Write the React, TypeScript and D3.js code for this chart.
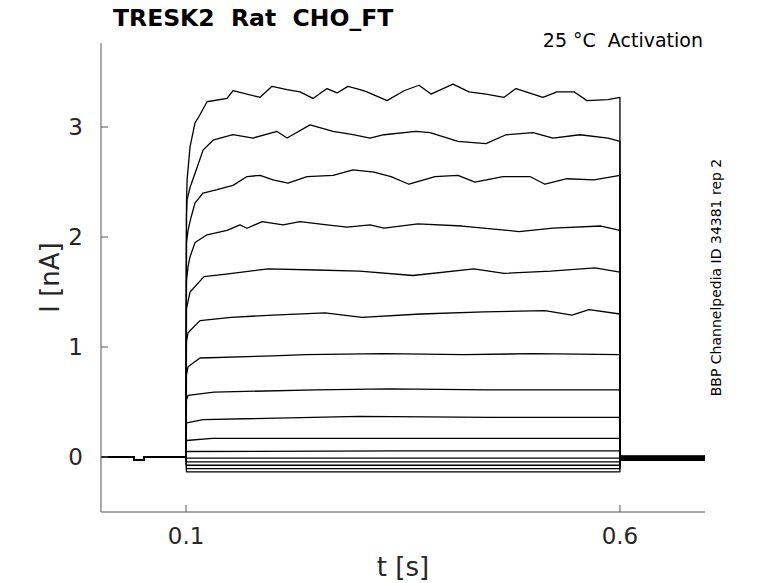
import * as d3 from "d3";

const width = 778;
const height = 583;
const margin = { top: 43, right: 73, bottom: 71, left: 101 };

const timeTicks = [0.1, 0.6];
const currentTicks = [0, 1, 2, 3];

// holding period before the step, same for every sweep (small test pulse)
const holdPoints: [number, number][] = [
  [0.002, 0], [0.04, 0], [0.0401, -0.03], [0.0515, -0.03], [0.0516, 0], [0.1, 0],
];

const sweep1: [number, number][] = [
  [0.1005, 2.3], [0.1012, 2.52], [0.1046, 2.82], [0.1104, 3.04], [0.1138, 3.08], [0.1242, 3.23],
  [0.1472, 3.26], [0.1541, 3.33], [0.1853, 3.27], [0.1991, 3.37], [0.2164, 3.34], [0.2313, 3.32],
  [0.2463, 3.26], [0.2624, 3.35], [0.274, 3.31], [0.2866, 3.37], [0.3005, 3.34], [0.3085, 3.32],
  [0.3316, 3.24], [0.3512, 3.33], [0.3684, 3.38], [0.3823, 3.3], [0.4076, 3.39], [0.426, 3.32],
  [0.4456, 3.3], [0.4664, 3.27], [0.4802, 3.35], [0.5113, 3.27], [0.5274, 3.32], [0.547, 3.32],
  [0.562, 3.24], [0.5862, 3.25], [0.6, 3.27],
];
const sweep2: [number, number][] = [
  [0.1005, 2.2], [0.1012, 2.34], [0.1046, 2.45], [0.1104, 2.58], [0.1196, 2.79], [0.1311, 2.88],
  [0.1392, 2.9], [0.1541, 2.93], [0.1772, 2.9], [0.2048, 2.96], [0.2164, 2.9], [0.2429, 3.02],
  [0.2694, 2.96], [0.2924, 2.93], [0.312, 2.9], [0.3281, 2.93], [0.365, 2.96], [0.3811, 2.95],
  [0.4134, 2.87], [0.4456, 2.85], [0.4687, 2.93], [0.4998, 2.95], [0.5228, 2.9], [0.5539, 2.93],
  [0.5862, 2.9], [0.6, 2.87],
];
const sweep3: [number, number][] = [
  [0.1005, 1.95], [0.1023, 2.06], [0.1058, 2.18], [0.1104, 2.31], [0.1196, 2.4], [0.1357, 2.43],
  [0.1541, 2.47], [0.1703, 2.55], [0.1853, 2.56], [0.2002, 2.52], [0.2175, 2.49], [0.2394, 2.55],
  [0.2694, 2.56], [0.2924, 2.61], [0.3166, 2.59], [0.3362, 2.55], [0.3569, 2.48], [0.3869, 2.55],
  [0.4134, 2.56], [0.4329, 2.5], [0.4652, 2.55], [0.4963, 2.55], [0.5136, 2.48], [0.5389, 2.53],
  [0.57, 2.52], [0.6, 2.56],
];
const sweep4: [number, number][] = [
  [0.1005, 1.6], [0.1023, 1.73], [0.1046, 1.82], [0.1104, 1.95], [0.1242, 2.02], [0.1472, 2.06],
  [0.1622, 2.11], [0.1703, 2.08], [0.1876, 2.14], [0.2118, 2.11], [0.2313, 2.14], [0.2624, 2.11],
  [0.2855, 2.09], [0.312, 2.11], [0.3281, 2.08], [0.3673, 2.12], [0.418, 2.1], [0.4837, 2.05],
  [0.5228, 2.08], [0.5781, 2.1], [0.6, 2.06],
];
const sweep5: [number, number][] = [
  [0.1005, 1.35], [0.1046, 1.5], [0.1207, 1.64], [0.1438, 1.66], [0.1945, 1.71], [0.25, 1.7],
  [0.3, 1.69], [0.3615, 1.65], [0.4318, 1.71], [0.4664, 1.67], [0.52, 1.69], [0.5712, 1.72], [0.6, 1.68],
];
const sweep6: [number, number][] = [
  [0.1005, 1.05], [0.1023, 1.13], [0.1161, 1.24], [0.1518, 1.27], [0.2, 1.29], [0.2601, 1.31],
  [0.3028, 1.27], [0.37, 1.3], [0.4433, 1.32], [0.5136, 1.33], [0.5447, 1.29], [0.5643, 1.34], [0.6, 1.3],
];
const sweep7: [number, number][] = [
  [0.1005, 0.75], [0.1023, 0.82], [0.1161, 0.9], [0.2, 0.92], [0.2371, 0.93], [0.327, 0.94],
  [0.42, 0.93], [0.5, 0.94], [0.6, 0.93],
];
const sweep8: [number, number][] = [
  [0.1005, 0.52], [0.1023, 0.56], [0.1322, 0.59], [0.25, 0.61], [0.3339, 0.62], [0.45, 0.61], [0.6, 0.61],
];
const sweep9: [number, number][] = [[0.1005, 0.31], [0.12, 0.34], [0.3, 0.37], [0.45, 0.36], [0.6, 0.36]];
const sweep10: [number, number][] = [[0.1005, 0.15], [0.13, 0.17], [0.35, 0.17], [0.6, 0.17]];
const sweep11: [number, number][] = [[0.1005, 0.05], [0.35, 0.055], [0.6, 0.055]];
const sweep12: [number, number][] = [[0.1005, -0.01], [0.6, -0.01]];
const sweep13: [number, number][] = [[0.1005, -0.045], [0.6, -0.045]];
const sweep14: [number, number][] = [[0.1005, -0.075], [0.6, -0.075]];
const sweep15: [number, number][] = [[0.1005, -0.105], [0.6, -0.105]];
const sweep16: [number, number][] = [[0.1005, -0.135], [0.6, -0.135]];

const sweeps = [
  sweep1, sweep2, sweep3, sweep4, sweep5, sweep6, sweep7, sweep8,
  sweep9, sweep10, sweep11, sweep12, sweep13, sweep14, sweep15, sweep16,
];

// current after the step back to holding, until the end of the record
const tailLevels = [
  -0.03, -0.028, -0.025, -0.022, -0.02, -0.017, -0.015, -0.012,
  -0.01, -0.007, -0.005, -0.002, 0, 0.003, 0.006, 0.01,
];
const stepEnd = 0.6;
const recordEnd = 0.698;

const font = "DejaVu Sans, sans-serif";

const App = () => {
  const x = d3.scaleLinear().domain([0.002, 0.698]).range([margin.left, width - margin.right]);
  const y = d3.scaleLinear().domain([-0.5, 3.764]).range([height - margin.bottom, margin.top]);

  const line = d3.line<[number, number]>()
    .x((d) => x(d[0]))
    .y((d) => y(d[1]));

  const paths = sweeps.map((s, i) => {
    const pts: [number, number][] = [
      ...holdPoints,
      ...s,
      [stepEnd, tailLevels[i]],
      [recordEnd, tailLevels[i]],
    ];
    return line(pts);
  });

  const x0 = margin.left;
  const x1 = width - margin.right;
  const y0 = height - margin.bottom;
  const y1 = margin.top;

  return (
    <svg
      width={width}
      height={height}
      style={{ position: "absolute", left: 0, top: 0, background: "#fff" }}
    >
      {paths.map((d, i) => (
        <path key={i} d={d ?? ""} fill="none" stroke="#000" strokeWidth={1.3} strokeLinejoin="round" />
      ))}

      {/* axes */}
      <line x1={x0} x2={x1} y1={y0} y2={y0} stroke="#555" />
      <line x1={x0} x2={x0} y1={y0} y2={y1} stroke="#555" />
      {timeTicks.map((t) => (
        <g key={t}>
          <line x1={x(t)} x2={x(t)} y1={y0} y2={y0 - 7} stroke="#555" />
          <text x={x(t)} y={y0 + 32} textAnchor="middle" fontFamily={font} fontSize={23} fill="#262626">
            {t}
          </text>
        </g>
      ))}
      {currentTicks.map((v) => (
        <g key={v}>
          <line x1={x0} x2={x0 + 7} y1={y(v)} y2={y(v)} stroke="#555" />
          <text x={x0 - 18} y={y(v)} dy="0.36em" textAnchor="end" fontFamily={font} fontSize={23} fill="#262626">
            {v}
          </text>
        </g>
      ))}

      <text x={(x0 + x1) / 2} y={576} textAnchor="middle" fontFamily={font} fontSize={26} fill="#262626">
        t [s]
      </text>
      <text
        transform={`translate(59,${(y0 + y1) / 2}) rotate(-90)`}
        textAnchor="middle"
        fontFamily={font}
        fontSize={26}
        fill="#262626"
      >
        I [nA]
      </text>

      <text x={113} y={26} fontFamily={font} fontSize={23.5} fontWeight="bold" fill="#000" style={{ whiteSpace: "pre" }}>
        {"TRESK2  Rat  CHO_FT"}
      </text>
      <text x={703} y={47} textAnchor="end" fontFamily={font} fontSize={19} fill="#000" style={{ whiteSpace: "pre" }}>
        {"25 °C  Activation"}
      </text>
      <text
        transform={`translate(721,${(y0 + y1) / 2}) rotate(-90)`}
        textAnchor="middle"
        fontFamily={font}
        fontSize={14}
        fill="#000"
      >
        BBP Channelpedia ID 34381 rep 2
      </text>
    </svg>
  );
};

export default App;
